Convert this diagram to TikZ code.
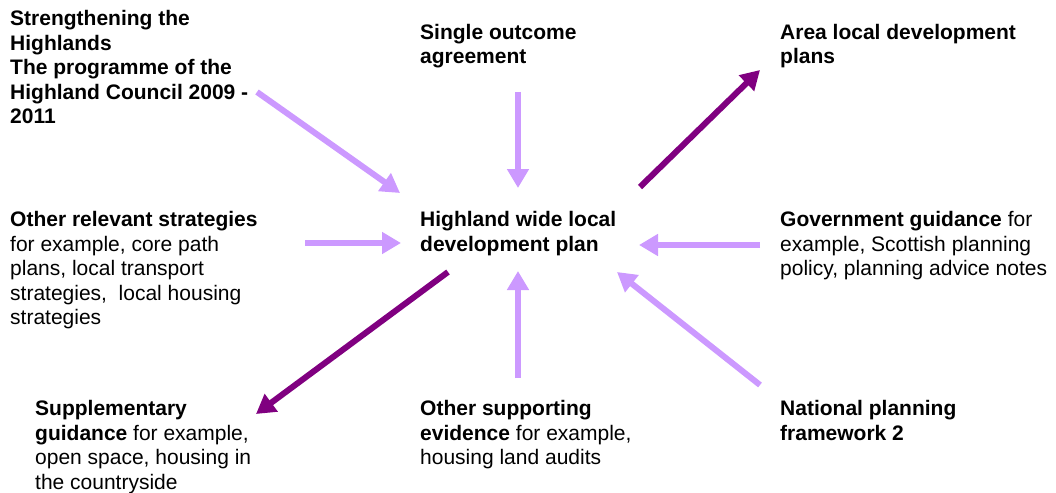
\documentclass[tikz,border=0pt]{standalone}
\usepackage{fontspec}
\setmainfont{Liberation Sans}
\usetikzlibrary{arrows.meta}
\definecolor{lightp}{HTML}{CC99FF}
\definecolor{darkp}{HTML}{800080}
\tikzset{
  lbl/.style={anchor=base west, align=left, inner sep=0pt, font=\fontsize{21}{24.5}\selectfont},
  inarrow/.style={draw=lightp, line width=6pt, -{Triangle[length=19pt,width=21pt]}},
  outarrow/.style={draw=darkp, line width=6pt, -{Triangle[length=19pt,width=21pt]}},
}
\begin{document}
\begin{tikzpicture}[x=1pt,y=-1pt]
\useasboundingbox (0,0) rectangle (1056,492);
% anchors are at the baseline of the last line
\node[lbl] (strength) at (10,123.5) {\textbf{Strengthening the}\\\textbf{Highlands}\\\textbf{The programme of the}\\\textbf{Highland Council 2009 -}\\\textbf{2011}};
\node[lbl] (single) at (420,64) {\textbf{Single outcome}\\\textbf{agreement}};
\node[lbl] (area) at (780,64) {\textbf{Area local development}\\\textbf{plans}};
\node[lbl] (other) at (10,324.5) {\textbf{Other relevant strategies}\\for example, core path\\plans, local transport\\strategies,\ \ local housing\\strategies};
\node[lbl] (hwldp) at (420,251) {\textbf{Highland wide local}\\\textbf{development plan}};
\node[lbl] (gov) at (780,275.5) {\textbf{Government guidance} for\\example, Scottish planning\\policy, planning advice notes};
\node[lbl] (supp) at (35,489) {\textbf{Supplementary}\\\textbf{guidance} for example,\\open space, housing in\\the countryside};
\node[lbl] (evid) at (420,464.5) {\textbf{Other supporting}\\\textbf{evidence} for example,\\housing land audits};
\node[lbl] (npf) at (780,440) {\textbf{National planning}\\\textbf{framework 2}};
% arrow end points
\coordinate (s1) at (257,92);  \coordinate (e1) at (400,193);
\coordinate (s2) at (518,92);  \coordinate (e2) at (518,188);
\coordinate (s3) at (640,187); \coordinate (e3) at (760,70);
\coordinate (s4) at (305,243); \coordinate (e4) at (401,243);
\coordinate (s5) at (760,245); \coordinate (e5) at (639,245);
\coordinate (s6) at (448,272); \coordinate (e6) at (256,414);
\coordinate (s7) at (518,378); \coordinate (e7) at (518,271);
\coordinate (s8) at (760,385); \coordinate (e8) at (617,272);
\draw[inarrow] (s1) -- (e1);
\draw[inarrow] (s2) -- (e2);
\draw[outarrow] (s3) -- (e3);
\draw[inarrow] (s4) -- (e4);
\draw[inarrow] (s5) -- (e5);
\draw[outarrow] (s6) -- (e6);
\draw[inarrow] (s7) -- (e7);
\draw[inarrow] (s8) -- (e8);
\end{tikzpicture}
\end{document}
